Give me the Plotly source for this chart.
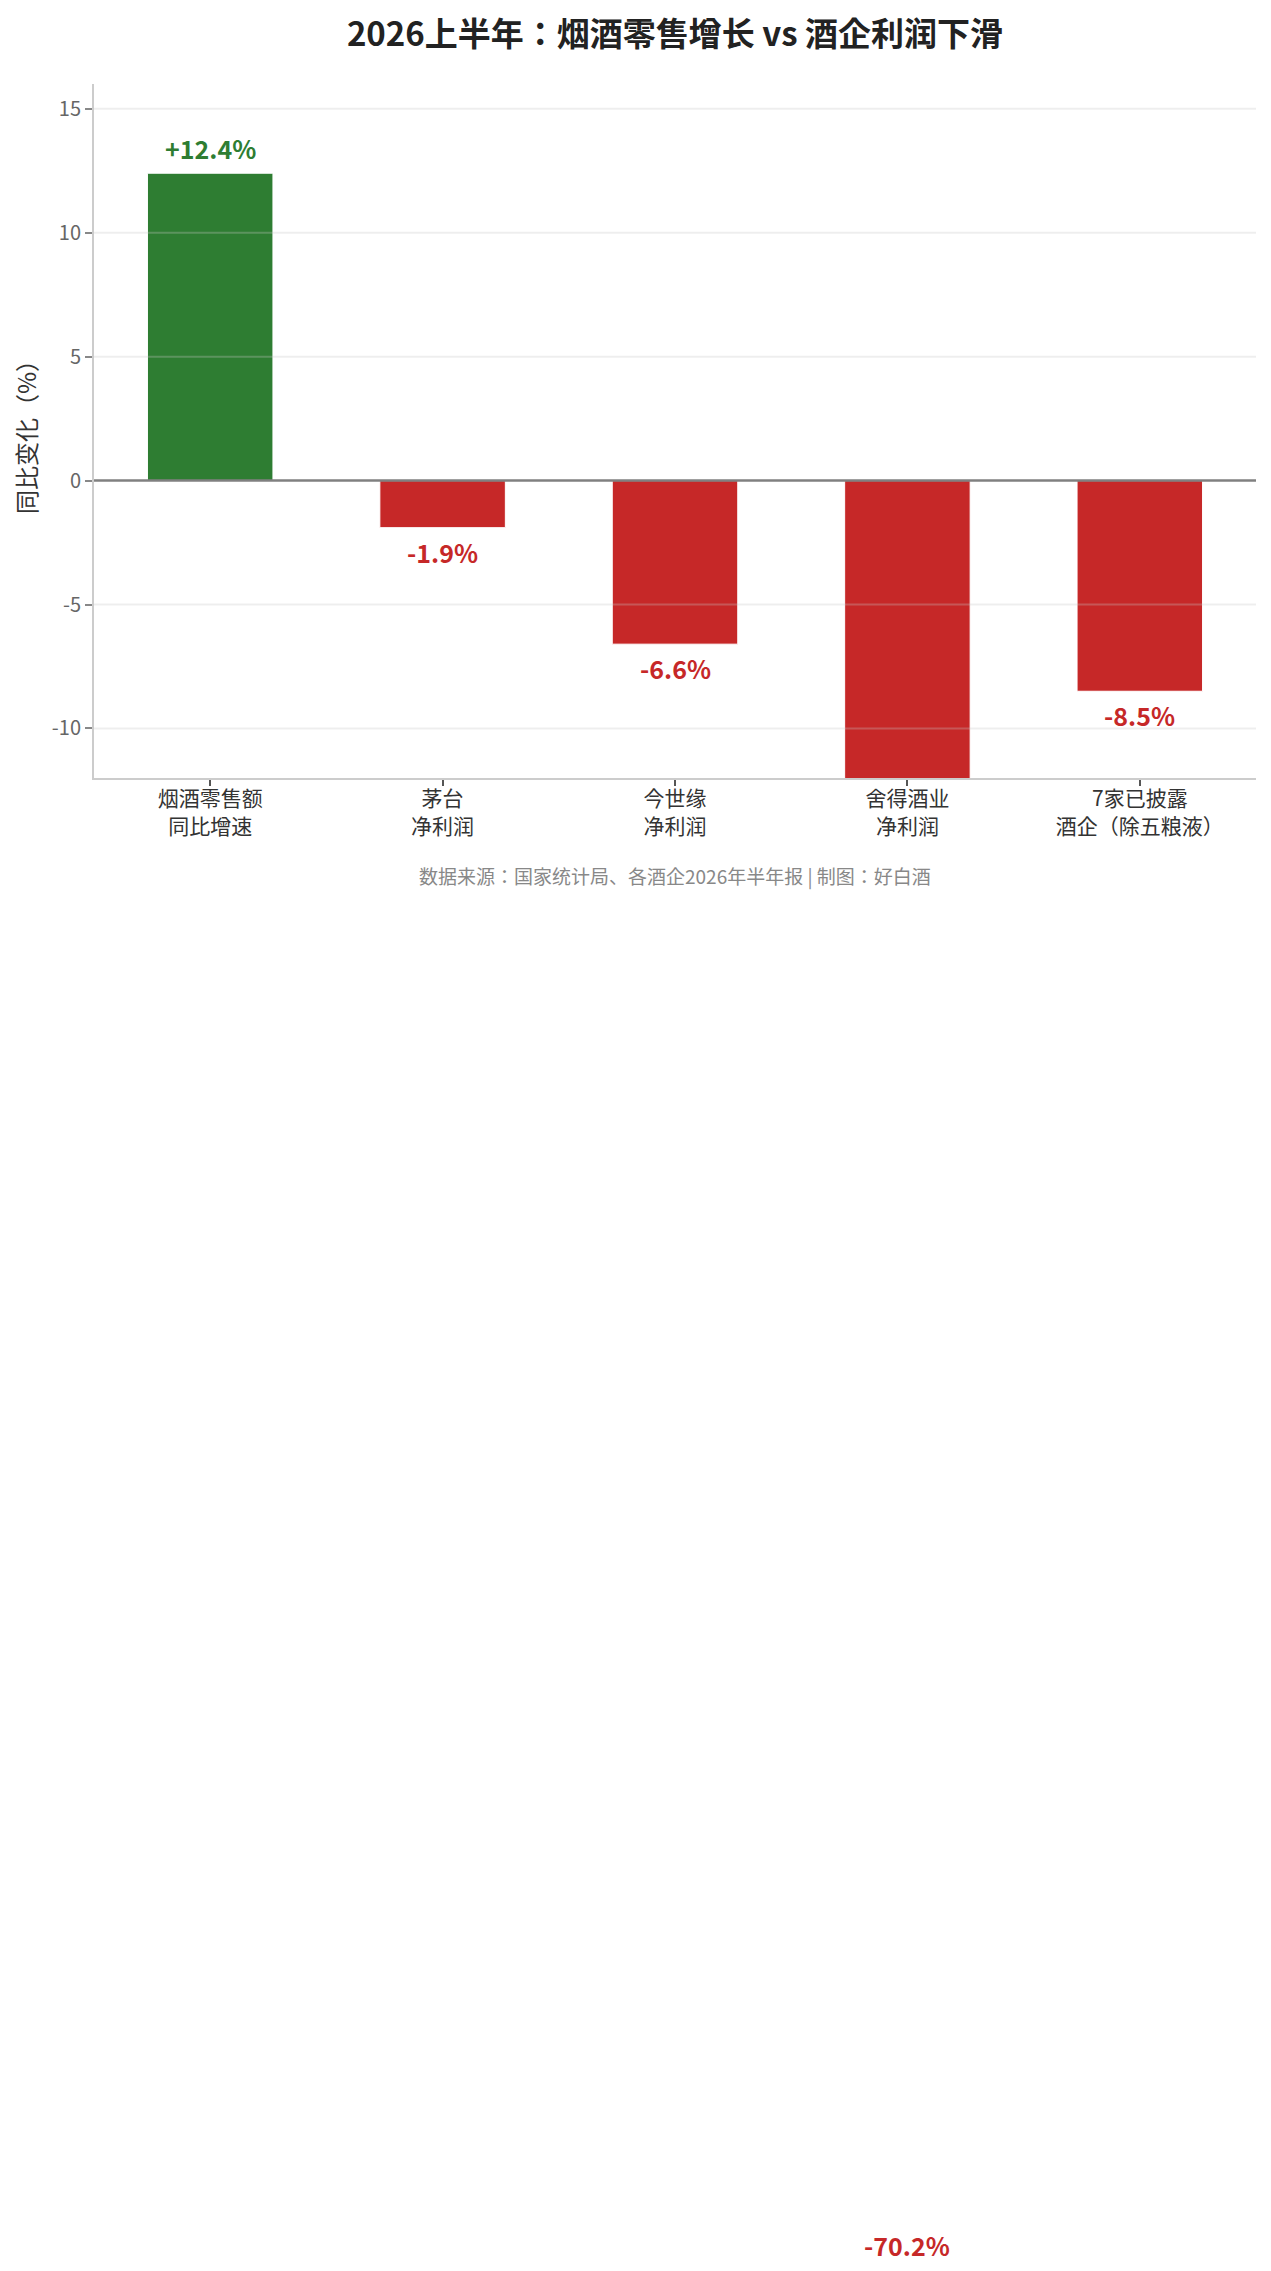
import plotly.graph_objects as go

cat_line1 = ['烟酒零售额', '茅台', '今世缘', '舍得酒业', '7家已披露']
cat_line2 = ['同比增速', '净利润', '净利润', '净利润', '酒企（除五粮液）']
values = [12.4, -1.9, -6.6, -70.2, -8.5]
labels = ['+12.4%', '-1.9%', '-6.6%', '-70.2%', '-8.5%']
y_ticks = [-10, -5, 0, 5, 10, 15]
y_tick_labels = ['-10', '-5', '0', '5', '10', '15']
Y_RANGE = [-12, 16]

GREEN = '#2e7d32'
RED = '#c62828'
FONT = 'Noto Sans CJK JP'

colors = [GREEN if v >= 0 else RED for v in values]
x_pos = list(range(len(values)))
categories = [a + '<br>' + b for a, b in zip(cat_line1, cat_line2)]

fig = go.Figure()

fig.add_trace(
    go.Bar(
        x=x_pos,
        y=values,
        width=0.54,
        marker=dict(color=colors, line=dict(color='white', width=1)),
        hoverinfo='skip',
        showlegend=False,
    )
)

# grid drawn over the bars, like the original
shapes = []
for t in y_ticks:
    if t == 0:
        continue
    shapes.append(dict(type='line', xref='paper', x0=0, x1=1, yref='y', y0=t, y1=t,
                       line=dict(color='rgba(200,200,200,0.3)', width=2), layer='above'))
shapes.append(dict(type='line', xref='paper', x0=0, x1=1, yref='y', y0=0, y1=0,
                   line=dict(color='#808080', width=2.5), layer='above'))

annotations = []

# value labels; the -70.2% one sits far below the clipped axis, so use paper refs
span = Y_RANGE[1] - Y_RANGE[0]
for x, v, lab, c in zip(x_pos, values, labels, colors):
    annotations.append(dict(
        text='<b>%s</b>' % lab, x=x, xref='x',
        y=(v - Y_RANGE[0]) / span, yref='paper',
        yshift=25 if v >= 0 else -24,
        xanchor='center', yanchor='middle', showarrow=False,
        font=dict(family=FONT, size=25, color=c),
    ))

annotations.append(dict(
    text='数据来源：国家统计局、各酒企2026年半年报 | 制图：好白酒',
    xref='paper', yref='paper', x=0.5, y=-0.141,
    xanchor='center', yanchor='middle', showarrow=False,
    font=dict(family=FONT, size=19, color='#888888'),
))

fig.update_xaxes(
    range=[-0.5, len(values) - 0.5],
    tickvals=x_pos,
    ticktext=categories,
    tickfont=dict(family=FONT, size=21, color='#333333'),
    ticks='outside', ticklen=6, tickwidth=2, tickcolor='#555555',
    ticklabelstandoff=-5,
    showline=True, linecolor='#cccccc', linewidth=2,
    showgrid=False, zeroline=False,
)

fig.update_yaxes(
    range=Y_RANGE,
    tickvals=y_ticks,
    ticktext=y_tick_labels,
    tickfont=dict(family=FONT, size=20, color='#666666'),
    ticks='outside', ticklen=7, tickwidth=2, tickcolor='#888888',
    showline=True, linecolor='#cccccc', linewidth=2,
    showgrid=False, zeroline=False,
    title=dict(text='同比变化（%）', font=dict(family=FONT, size=24, color='#333333'), standoff=10),
)

# page body has an 8px margin, so the figure is a bit smaller than the window
fig.update_layout(
    width=1255,
    height=2255,
    margin=dict(l=86, r=7, t=76, b=1485),
    plot_bgcolor='white',
    paper_bgcolor='white',
    shapes=shapes,
    annotations=annotations,
    title=dict(
        text='<b>2026上半年：烟酒零售增长 vs 酒企利润下滑</b>',
        font=dict(family=FONT, size=33, color='#222222'),
        x=0.5, xref='paper', xanchor='center',
        y=1 - 26 / 2255, yref='container', yanchor='middle',
    ),
)

fig.write_html('out.html')
